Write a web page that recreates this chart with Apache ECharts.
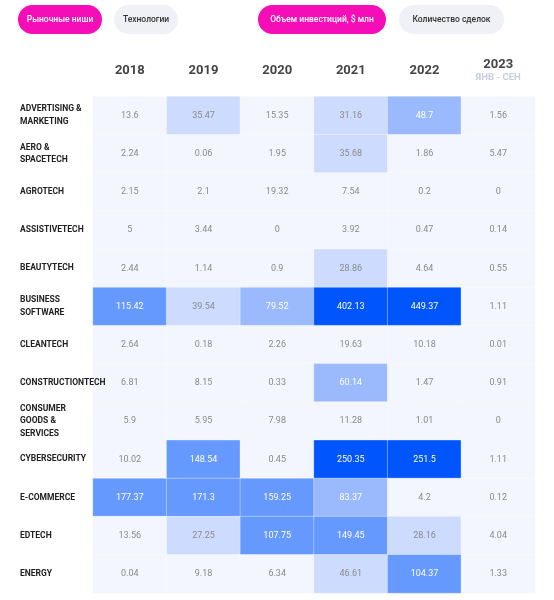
<!DOCTYPE html>
<html><head><meta charset="utf-8">
<script src="https://cdn.jsdelivr.net/npm/echarts@6/dist/echarts.min.js"></script>
<style>html,body{margin:0;padding:0;background:#fff}#c{width:554px;height:600px}</style>
</head><body><div id="c"></div>
<script>
// ---- data ----
const years = ['2018', '2019', '2020', '2021', '2022', '2023'];
const yearSub = 'ЯНВ - СЕН';
const categories = [
  'ADVERTISING &\nMARKETING', 'AERO &\nSPACETECH', 'AGROTECH', 'ASSISTIVETECH', 'BEAUTYTECH',
  'BUSINESS\nSOFTWARE', 'CLEANTECH', 'CONSTRUCTIONTECH', 'CONSUMER\nGOODS &\nSERVICES',
  'CYBERSECURITY', 'E-COMMERCE', 'EDTECH', 'ENERGY'
];
const v2018 = [13.6, 2.24, 2.15, 5, 2.44, 115.42, 2.64, 6.81, 5.9, 10.02, 177.37, 13.56, 0.04];
const v2019 = [35.47, 0.06, 2.1, 3.44, 1.14, 39.54, 0.18, 8.15, 5.95, 148.54, 171.3, 27.25, 9.18];
const v2020 = [15.35, 1.95, 19.32, 0, 0.9, 79.52, 2.26, 0.33, 7.98, 0.45, 159.25, 107.75, 6.34];
const v2021 = [31.16, 35.68, 7.54, 3.92, 28.86, 402.13, 19.63, 60.14, 11.28, 250.35, 83.37, 149.45, 46.61];
const v2022 = [48.7, 1.86, 0.2, 0.47, 4.64, 449.37, 10.18, 1.47, 1.01, 251.5, 4.2, 28.16, 104.37];
const v2023 = [1.56, 5.47, 0, 0.14, 0.55, 1.11, 0.01, 0.91, 0, 1.11, 0.12, 4.04, 1.33];
const buttonsLeft = ['Рыночные ниши', 'Технологии'];
const buttonsRight = ['Объем инвестиций, $ млн', 'Количество сделок'];

const cols = [v2018, v2019, v2020, v2021, v2022, v2023];
const heat = [];
cols.forEach((arr, xi) => arr.forEach((v, yi) => heat.push([xi, yi, v])));

const FONT = 'Roboto, "Noto Sans", sans-serif';
const PINK = '#f50db8';
const GRAY = '#eff1f6';

function pill(x, y, w, h, text, active) {
  return {
    type: 'group', left: x, top: y,
    children: [
      { type: 'rect', shape: { x: 0, y: 0, width: w, height: h, r: h / 2 },
        style: { fill: active ? PINK : GRAY } },
      { type: 'text', x: w / 2, y: h / 2,
        style: { text: text, fill: active ? '#fff' : '#333', font: '500 8.5px ' + FONT,
          align: 'center', verticalAlign: 'middle' } }
    ]
  };
}

const chart = echarts.init(document.getElementById('c'), null, { renderer: 'canvas' });
chart.setOption({
  animation: false,
  backgroundColor: '#fff',
  textStyle: { fontFamily: FONT },
  graphic: [
    pill(18, 5, 84, 29, buttonsLeft[0], true),
    pill(114, 5, 64, 29, buttonsLeft[1], false),
    pill(258, 5, 128, 29, buttonsRight[0], true),
    pill(399, 5, 105, 29, buttonsRight[1], false)
  ],
  grid: { left: 93, right: 19, top: 96.5, bottom: 7 },
  xAxis: {
    type: 'category', position: 'top', data: years,
    axisLine: { show: false }, axisTick: { show: false }, splitLine: { show: false },
    axisLabel: {
      interval: 0, hideOverlap: false,
      margin: 26, verticalAlign: 'middle',
      formatter: (v, i) => i === years.length - 1 ? '{y|' + v + '}\n{s|' + yearSub + '}' : '{y|' + v + '}',
      rich: {
        y: { fontSize: 13, fontWeight: 'bold', color: '#444', fontFamily: FONT, lineHeight: 14 },
        s: { fontSize: 9.5, fontWeight: 'bold', color: '#c6cde0', fontFamily: FONT, lineHeight: 12 }
      }
    }
  },
  yAxis: {
    type: 'category', inverse: true, data: categories, z: 10,
    axisLine: { show: false }, axisTick: { show: false }, splitLine: { show: false },
    axisLabel: {
      interval: 0, hideOverlap: false,
      align: 'left', margin: 73, fontSize: 8.5, fontWeight: 'bold', color: '#222',
      fontFamily: FONT, lineHeight: 12.7, width: 120, overflow: 'none'
    }
  },
  visualMap: {
    show: false, type: 'piecewise', dimension: 2,
    pieces: [
      { lt: 20, color: '#f3f6fe' },
      { gte: 20, lt: 47.5, color: '#cddcfe' },
      { gte: 47.5, lt: 100, color: '#9abafd' },
      { gte: 100, lt: 200, color: '#6699fe' },
      { gte: 200, color: '#0055fc' }
    ]
  },
  series: [{
    type: 'heatmap', data: heat, z: 1,
    itemStyle: { borderColor: 'rgba(255,255,255,0.35)', borderWidth: 1 },
    emphasis: { disabled: true },
    label: {
      show: true,
      formatter: p => (p.value[2] >= 47.5 ? '{w|' : '{g|') + p.value[2] + '}',
      rich: {
        w: { color: '#fff', fontSize: 9, fontFamily: FONT },
        g: { color: '#8a8a8a', fontSize: 9, fontFamily: FONT }
      }
    }
  }]
});
</script></body></html>
